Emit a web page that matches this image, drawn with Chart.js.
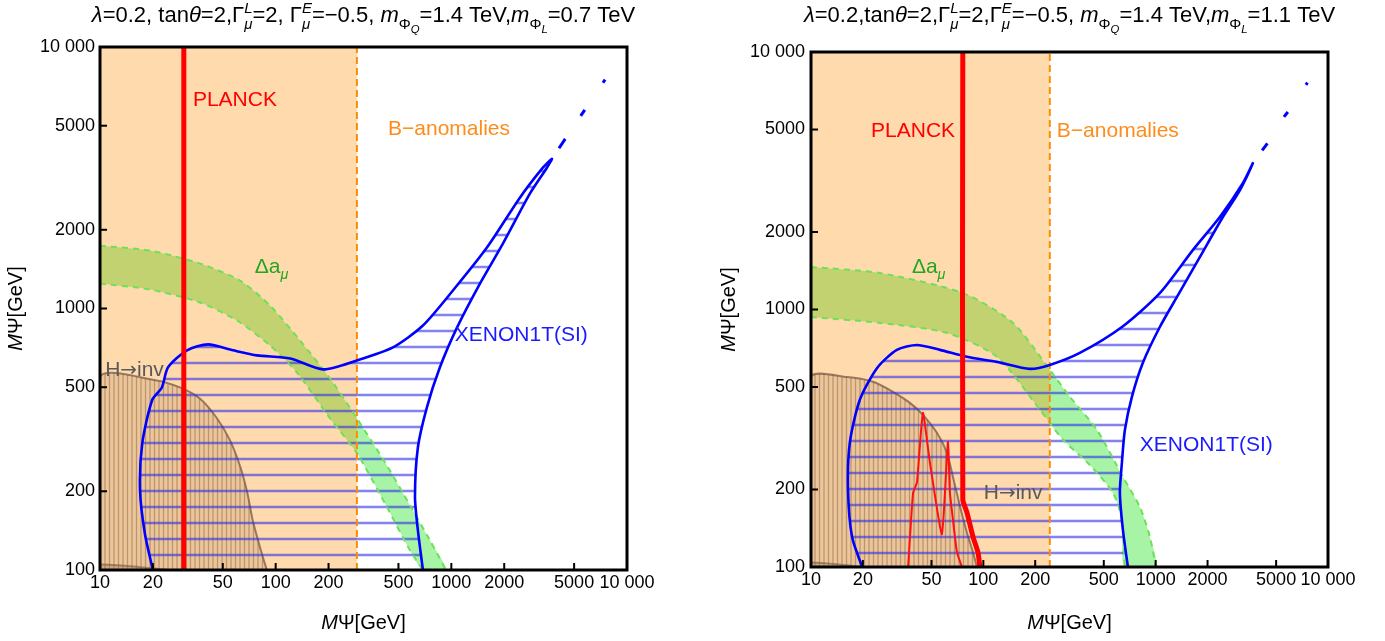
<!DOCTYPE html>
<html><head><meta charset="utf-8">
<script src="https://cdn.jsdelivr.net/npm/chart.js@4.4.1/dist/chart.umd.min.js"></script>
<style>
html,body{margin:0;padding:0;background:#fff;width:1385px;height:641px;overflow:hidden}
.panel{position:absolute;top:0}
</style></head><body>
<div class="panel" style="left:0"><canvas id="cL" width="692" height="641"></canvas></div>
<div class="panel" style="left:692px"><canvas id="cR" width="693" height="641"></canvas></div>
<script>
// ---------- axis ticks ----------
const xTicks = [10,20,50,100,200,500,1000,2000,5000,10000];
const xTickLabels = ['10','20','50','100','200','500','1000','2000','5000','10 000'];
const yTicks = [100,200,500,1000,2000,5000,10000];
const yTickLabels = ['100','200','500','1000','2000','5000','10 000'];

// ---------- left panel data (M_Psi GeV, M_Psi GeV) ----------
const bAnomalyEdgeL = 290;
const planckL = [[30,100],[30,10000]];
const damuUpperL = [[10,1738],[19.3,1665],[37.1,1485],[62.6,1279],[92.8,1027],[137.5,755],[204,540],[290,380],[419,258],[581,177],[755,130],[932,100]];
const damuLowerL = [[10,1245],[19.3,1182],[37.1,1054],[60.2,900],[92.8,722],[132,570],[204,380],[290,280],[430,174],[581,119],[689,100]];
const hinvL = [[10,100],[10,546],[21,531],[28.5,499],[37,453],[46,383],[55,313],[63,247],[69,197],[74,155],[81.5,122],[89,100]];
const hinvLowL = [[10,100],[10,105],[17,102.5],[25,100]];
const xenonL = [[20,100],[18,138],[16.9,202],[17.4,305],[19.8,446],[22.5,499],[24.4,596],[31.3,692],[41.2,729],[57.2,692],[78.3,662],[121,644],[186,585],[290,633],[465,710],[689,861],[1021,1172],[1594,1710],[2456,2653],[3320,3455],[3737,3738],[3500,3455],[2800,2748],[1966,1770],[1455,1245],[1077,845],[861,596],[726,419],[645,294],[621,190],[645,142],[689,100]];
const xenonDashesL = [[[4100,4100],[4450,4450]],[[5450,5450],[5750,5750]],[[7300,7300],[7500,7500]]];

// ---------- right panel data ----------
const bAnomalyEdgeR = 243;
const planckR = [[76,10000],[76,183],[80.3,163],[87.1,131],[93.1,114],[95.5,100]];
const planckContourR = [[36.6,100],[39.1,194],[41.2,213],[44.6,397],[49,254],[57.5,134],[62.3,306],[64,194],[66.6,153],[70.3,114],[75.2,100]];
const damuUpperR = [[10,1462],[25.1,1385],[76.2,1158],[148.6,887],[243,583],[318,458],[456,341],[645,224],[810,171],[925,131],[1003,100]];
const damuLowerR = [[10,935],[25.1,887],[61.5,811],[120,655],[213,408],[290,312],[415,249],[565,194],[637,153],[662,100]];
const hinvR = [[10,100],[10,547],[16.2,547],[22.9,524],[29.9,479],[37.5,434],[44.6,390],[53.8,332],[61.5,278],[66.6,224],[73.2,172],[80.3,136],[87.1,114],[91.8,100]];
const hinvLowR = [[10,100],[10,104],[15,102],[20,100]];
const xenonR = [[19.8,100],[17.3,131],[16.4,200],[16.8,304],[19.2,446],[24.2,593],[31.5,697],[41.2,728],[56,697],[80.3,655],[120,626],[186,588],[243,609],[363,678],[637,855],[1057,1158],[1643,1701],[2357,2286],[3204,3093],[3664,3700],[3078,2904],[2453,2286],[1804,1596],[1327,1117],[1057,855],[843,621],[728,458],[663,341],[637,254],[620,194],[645,140],[690,100]];
const xenonDashesR = [[[4150,4150],[4450,4420]],[[5550,5600],[5850,5850]],[[7450,7450],[7600,7600]]];

// ---------- texts ----------
const titleL = [['λ','i'],['=0.2, tan'],['θ','i'],['=2,Γ'],['L','iuk'],['μ','id'],['=2, Γ'],['E','iuk'],['μ','id'],['=−0.5, '],['m','i'],['Φ','d'],['Q','ie'],['=1.4 TeV,'],['m','i'],['Φ','d'],['L','ie'],['=0.7 TeV']];
const titleR = [['λ','i'],['=0.2,tan'],['θ','i'],['=2,Γ'],['L','iuk'],['μ','id'],['=2,Γ'],['E','iuk'],['μ','id'],['=−0.5, '],['m','i'],['Φ','d'],['Q','ie'],['=1.4 TeV,'],['m','i'],['Φ','d'],['L','ie'],['=1.1 TeV']];
const axisTitle = [['M','i'],['Ψ[GeV]']];
const txtPlanck = [['PLANCK']], txtB = [['B−anomalies']], txtDamu = [['Δa'],['μ','id']], txtXenon = [['XENON1T(SI)']], txtHinv = [['H'],['→','g'],['inv']];

// label anchors (data units, left edge / vertical centre)
const labelsL = [
  {t:txtPlanck, x:33.8, y:6380, c:'#ff0000'},
  {t:txtB, x:436, y:4910, c:'#ff8c1a'},
  {t:txtDamu, x:76, y:1459, c:'#22a622'},
  {t:txtXenon, x:1047, y:803, c:'#1a1aff'},
  {t:txtHinv, x:10.7, y:590, c:'#5a5a5a'}
];
const labelsR = [
  {t:txtPlanck, x:22.3, y:5012, c:'#ff0000'},
  {t:txtB, x:267, y:5012, c:'#ff8c1a'},
  {t:txtDamu, x:38.5, y:1486, c:'#22a622'},
  {t:txtXenon, x:809, y:301, c:'#1a1aff'},
  {t:txtHinv, x:100.7, y:196, c:'#5a5a5a'}
];

// ---------- helpers ----------
const FAM = '"Liberation Sans", Arial, "DejaVu Sans", sans-serif';
const FAM2 = '"DejaVu Sans", sans-serif';
const P = arr => arr.map(([x,y]) => ({x, y}));
const poly = (up, lo) => P(up.concat(lo.slice().reverse()));

function layoutRich(ctx, items, size){
  let x = 0, pending = null; const out = [];
  for (const [t, f=''] of items){
    let s = size, dy = 0;
    if (f.includes('u')) { s = size*0.68; dy = -size*0.40; }
    else if (f.includes('d')) { s = size*0.68; dy = size*0.30; }
    else if (f.includes('e')) { s = size*0.52; dy = size*0.50; }
    if (f.includes('g')) s = size*0.95;
    const font = (f.includes('i') ? 'italic ' : '') + s.toFixed(1) + 'px ' + (f.includes('g') ? FAM2 : FAM);
    ctx.font = font; const w = ctx.measureText(t).width;
    const sx = pending ? pending.x : x;
    out.push({t, font, x:sx, dy});
    if (f.includes('k')) pending = {x:sx, w};
    else { x = sx + (pending ? Math.max(pending.w, w) : w); pending = null; }
  }
  return {out, width:x};
}
function drawRich(ctx, items, x, y, size, align, color){
  const lay = layoutRich(ctx, items, size);
  const x0 = align === 'center' ? x - lay.width/2 : x;
  ctx.fillStyle = color; ctx.textBaseline = 'alphabetic'; ctx.textAlign = 'left';
  for (const it of lay.out){ ctx.font = it.font; ctx.fillText(it.t, x0 + it.x, y + it.dy); }
}
function makePattern(ctx, w, h, fn){
  const c = document.createElement('canvas'); c.width = w; c.height = h;
  fn(c.getContext('2d'), w, h);
  return ctx.createPattern(c, 'repeat');
}

function buildPanel(id, d){
  const ctx = document.getElementById(id).getContext('2d');
  const brown = makePattern(ctx, 9, 4, (g,w,h) => {
    g.fillStyle = 'rgba(125,80,45,0.15)'; g.fillRect(0,0,w,h);
    g.strokeStyle = 'rgba(125,80,45,0.42)'; g.lineWidth = 1.3;
    for (const xx of [1.5, 6]) { g.beginPath(); g.moveTo(xx,0); g.lineTo(xx,h); g.stroke(); }
  });
  const blue = makePattern(ctx, 4, 16, (g,w,h) => {
    g.strokeStyle = 'rgba(40,40,235,0.58)'; g.lineWidth = 2.5;
    g.beginPath(); g.moveTo(0, d.hatchOff); g.lineTo(w, d.hatchOff); g.stroke();
  });
  const base = {showLine:true, pointRadius:0, borderWidth:0, borderColor:'rgba(0,0,0,0)', fill:false, tension:0.25};
  const ds = [
    {...base, data: poly(d.damuUp, d.damuLo), fill:'shape', backgroundColor:'rgba(60,230,60,0.45)', order:100},
    {...base, data: P([[10,100],[d.bEdge,100],[d.bEdge,10000],[10,10000]]), fill:'shape', backgroundColor:'rgba(255,140,0,0.32)', tension:0, order:95},
    {...base, data: P(d.hinv), fill:'shape', backgroundColor:brown, borderColor:'rgba(120,90,70,0.75)', borderWidth:2, order:90},
    {...base, data: P(d.hinvLow), fill:'shape', backgroundColor:'rgba(125,80,45,0.25)', borderColor:'rgba(120,90,70,0.6)', borderWidth:2, order:89},
    {...base, data: P(d.xenon), fill:'shape', backgroundColor:blue, order:80},
    {...base, data: P(d.damuUp), borderColor:'rgb(110,225,90)', borderWidth:2, borderDash:[6,5], order:60},
    {...base, data: P(d.damuLo), borderColor:'rgb(110,225,90)', borderWidth:2, borderDash:[6,5], order:60},
    {...base, data: P([[d.bEdge,100],[d.bEdge,10000]]), borderColor:'rgb(255,140,0)', borderWidth:2, borderDash:[7,4], tension:0, order:55},
    {...base, data: P(d.xenon), borderColor:'#0000ff', borderWidth:2.6, order:40},
    {...base, data: P(d.planck), borderColor:'#ff0000', borderWidth:5, tension:0.2, order:30}
  ];
  if (d.contour) ds.push({...base, data:P(d.contour), borderColor:'#ff1010', borderWidth:2, tension:0.15, order:35});
  for (const seg of d.dashes) ds.push({...base, data:P(seg), borderColor:'#0000ff', borderWidth:3, tension:0, order:40});

  const decor = {
    id:'decor', afterDraw(chart){
      const c = chart.ctx, a = chart.chartArea, sx = chart.scales.x, sy = chart.scales.y;
      c.save();
      c.strokeStyle = '#000'; c.lineWidth = 2;
      for (const v of xTicks){ const px = sx.getPixelForValue(v); c.beginPath(); c.moveTo(px, a.bottom); c.lineTo(px, a.bottom-7); c.stroke(); }
      for (const v of yTicks){ const py = sy.getPixelForValue(v); c.beginPath(); c.moveTo(a.left, py); c.lineTo(a.left+7, py); c.stroke(); }
      c.lineWidth = 3; c.strokeRect(a.left, a.top, a.right-a.left, a.bottom-a.top);
      for (const L of d.labels) drawRich(c, L.t, sx.getPixelForValue(L.x), sy.getPixelForValue(L.y) + 0.36*21, 21, 'left', L.c);
      drawRich(c, d.title, (a.left+a.right)/2, 22, 22, 'center', '#000');
      drawRich(c, axisTitle, (a.left+a.right)/2, 629, 20, 'center', '#000');
      c.translate(d.yTitleX, (a.top+a.bottom)/2); c.rotate(-Math.PI/2);
      drawRich(c, axisTitle, 0, 0, 20, 'center', '#000');
      c.restore();
    }
  };
  const tickFont = {family:FAM, size:18};
  new Chart(ctx, {
    type:'scatter',
    data:{datasets:ds},
    options:{
      responsive:false, animation:false, events:[],
      layout:{padding:{top:d.padTop, right:d.padRight, left:0, bottom:0}},
      plugins:{legend:{display:false}, tooltip:{enabled:false}},
      elements:{point:{radius:0}},
      scales:{
        x:{type:'logarithmic', min:10, max:10000, grid:{display:false, drawTicks:false}, border:{display:false},
           afterBuildTicks:s => { s.ticks = xTicks.map(v => ({value:v})); },
           ticks:{autoSkip:false, maxRotation:0, minRotation:0, padding:2, color:'#000', font:tickFont, callback:(v,i) => xTickLabels[i]},
           afterFit:s => { s.height = d.xAxisH; }},
        y:{type:'logarithmic', min:100, max:10000, grid:{display:false, drawTicks:false}, border:{display:false},
           afterBuildTicks:s => { s.ticks = yTicks.map(v => ({value:v})); },
           ticks:{autoSkip:false, padding:d.yPad, color:'#000', font:tickFont, callback:(v,i) => yTickLabels[i]},
           afterFit:s => { s.width = d.yAxisW; }}
      }
    },
    plugins:[decor]
  });
}

buildPanel('cL', {bEdge:bAnomalyEdgeL, planck:planckL, contour:null, damuUp:damuUpperL, damuLo:damuLowerL,
  hinv:hinvL, hinvLow:hinvLowL, xenon:xenonL, dashes:xenonDashesL, labels:labelsL, title:titleL,
  padTop:47, padRight:65, xAxisH:71, yAxisW:100, yPad:5, yTitleX:22, hatchOff:11});
buildPanel('cR', {bEdge:bAnomalyEdgeR, planck:planckR, contour:planckContourR, damuUp:damuUpperR, damuLo:damuLowerR,
  hinv:hinvR, hinvLow:hinvLowR, xenon:xenonR, dashes:xenonDashesR, labels:labelsR, title:titleR,
  padTop:52, padRight:57, xAxisH:74, yAxisW:119, yPad:6, yTitleX:43, hatchOff:9});
</script>
</body></html>
